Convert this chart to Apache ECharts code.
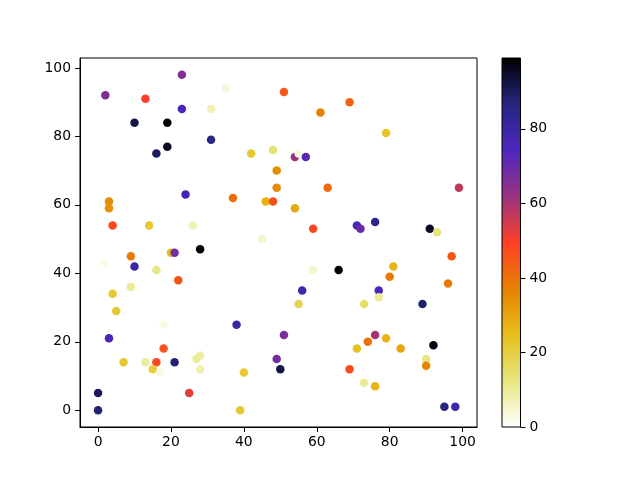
<!DOCTYPE html>
<html><head><meta charset="utf-8">
<script src="https://cdn.jsdelivr.net/npm/echarts@6/dist/echarts.min.js"></script>
<style>html,body{margin:0;padding:0;background:#fff}#c{width:640px;height:480px}</style>
</head><body><div id="c"></div>
<script>
// point data: x, y, colour value
const xs = [23,2,13,35,23,31,10,19,31,19,16,42,48,49,49,3,3,24,37,46,48,4,14,26,45,
  51,69,61,79,54,55,57,63,54,59,71,72,76,91,93,99,
  9,20,21,28,2,10,16,22,9,4,5,18,38,3,18,7,13,16,21,27,28,15,17,28,40,49,50,25,0,0,39,
  97,51,59,66,81,80,56,55,77,77,73,89,96,76,74,79,71,83,92,90,90,69,73,76,95,98];
const ys = [98,92,91,94,88,88,84,84,79,77,75,75,76,70,65,61,59,63,62,61,61,54,54,54,50,
  93,90,87,81,74,75,74,65,59,53,54,53,55,53,52,65,
  45,46,46,47,43,42,41,38,36,34,29,25,25,21,18,14,14,14,14,15,16,12,11,12,11,15,12,5,5,0,0,
  45,22,41,41,42,39,35,31,35,33,31,31,37,22,20,21,18,18,19,15,13,12,8,7,1,1];
const vs = [66,66,50,4,75,7,92,98,85,95,90,22,14,35,35,35,34,76,41,28,46,48,22,7,5,
  45,43,37,23,62,3,72,42,29,48,76,70,85,95,13,57,
  38,25,68,98,2,80,12,46,10,22,22,3,80,75,46,22,10,48,88,10,9,20,3,8,22,68,92,53,90,88,22,
  45,67,5,98,27,38,78,18,75,10,15,88,38,60,40,27,24,30,97,12,36,48,10,27,86,78];
const xTicks = [0,20,40,60,80,100];
const yTicks = [0,20,40,60,80,100];
const cbTicks = [0,20,40,60,80];
const vMax = 99;
// CMRmap reversed
const cmap = ['#ffffff','#e6e680','#e6bf1a','#e68000','#ff4026','#993380','#4d26bf','#262680','#000000'];

const pts = xs.map((x,i)=>[x, ys[i], vs[i]]);
const font = {color:'#000', fontFamily:'DejaVu Sans', fontSize:13.9};
const chart = echarts.init(document.getElementById('c'), null, {renderer:'canvas'});
chart.setOption({
  animation:false,
  backgroundColor:'#fff',
  grid:[
    {left:80, top:58, width:397, height:369, show:true, borderColor:'#000', borderWidth:1, backgroundColor:'transparent'},
    {left:502, top:58, width:18.5, height:369, show:true, borderColor:'#000', borderWidth:1, backgroundColor:'transparent', z:5}
  ],
  xAxis:[
    {type:'value', gridIndex:0, min:-4.95, max:103.95,
     axisLine:{show:true, onZero:false, lineStyle:{color:'#000'}},
     axisTick:{show:true, length:5, customValues:xTicks, lineStyle:{color:'#000'}},
     axisLabel:Object.assign({customValues:xTicks, margin:8}, font),
     splitLine:{show:false}},
    {type:'category', gridIndex:1, data:['c'], show:false, boundaryGap:true}
  ],
  yAxis:[
    {type:'value', gridIndex:0, min:-4.9, max:102.9,
     axisLine:{show:true, onZero:false, lineStyle:{color:'#000'}},
     axisTick:{show:true, length:5, customValues:yTicks, lineStyle:{color:'#000'}},
     axisLabel:Object.assign({customValues:yTicks, margin:9}, font),
     splitLine:{show:false}},
    {type:'value', gridIndex:1, min:0, max:vMax, position:'right',
     axisLine:{show:false},
     axisTick:{show:true, length:5, customValues:cbTicks, lineStyle:{color:'#000'}},
     axisLabel:Object.assign({customValues:cbTicks, margin:9}, font),
     splitLine:{show:false}}
  ],
  visualMap:{show:false, type:'continuous', seriesIndex:0, dimension:2, min:0, max:vMax, inRange:{color:cmap}},
  series:[
    {type:'scatter', xAxisIndex:0, yAxisIndex:0, data:pts, symbolSize:8.5, itemStyle:{opacity:1}},
    {type:'bar', xAxisIndex:1, yAxisIndex:1, data:[vMax], barWidth:'100%', barCategoryGap:0,
     itemStyle:{color:{type:'linear', x:0, y:1, x2:0, y2:0,
       colorStops: cmap.map((c,i)=>({offset:i/(cmap.length-1), color:c}))}}}
  ]
});
</script></body></html>
